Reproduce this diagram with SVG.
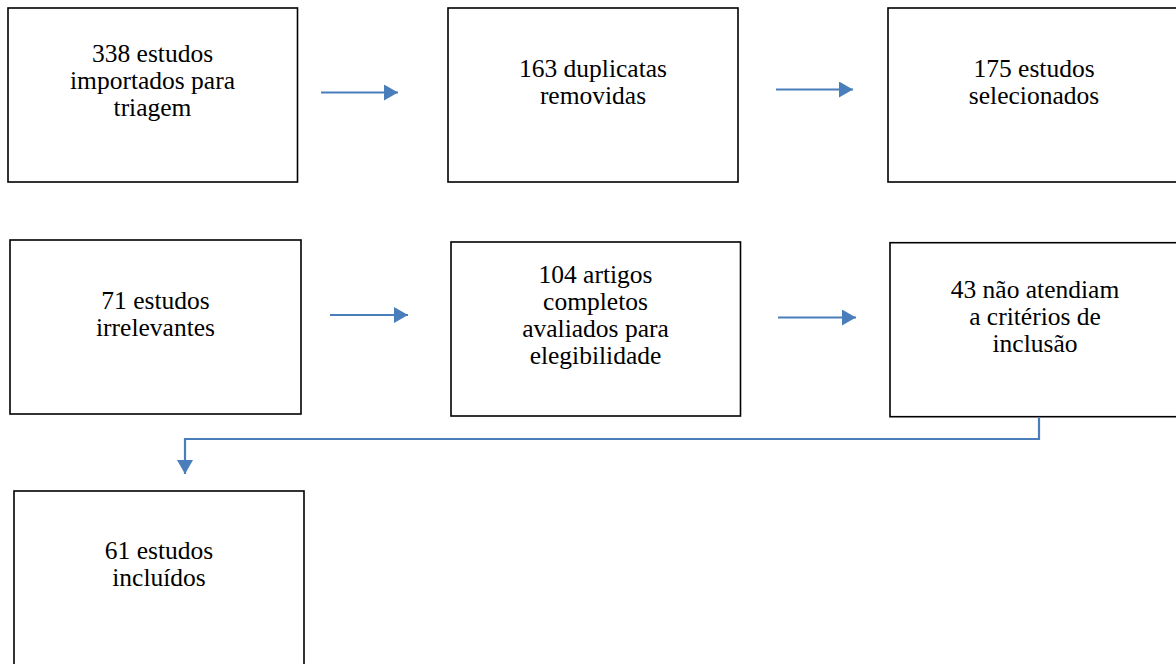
<svg xmlns="http://www.w3.org/2000/svg" width="1176" height="664" viewBox="0 0 1176 664">
<style>
.box{fill:#fff;stroke:#000;stroke-width:1.6}
.t{font-family:"Liberation Serif","DejaVu Serif",serif;font-size:25.5px;fill:#000;text-anchor:middle}
.c{fill:none;stroke:#4A7EBB;stroke-width:2.2}
</style>
<defs>
<marker id="ah" markerUnits="userSpaceOnUse" markerWidth="16" markerHeight="16" viewBox="0 0 14 16" refX="14" refY="8" orient="auto">
<path d="M0,0 L14,8 L0,16 Z" fill="#4A7EBB"/>
</marker>
</defs>
<rect width="1176" height="664" fill="#fff"/>
<g id="n1"><rect class="box" x="8" y="8" width="289.5" height="174"/>
<text class="t" x="152.5" y="62">338 estudos</text><text class="t" x="152.5" y="89">importados para</text><text class="t" x="152.5" y="116">triagem</text></g>
<g id="n2"><rect class="box" x="448" y="8" width="290" height="174"/>
<text class="t" x="593" y="77">163 duplicatas</text><text class="t" x="593" y="104">removidas</text></g>
<g id="n3"><rect class="box" x="888" y="8" width="292" height="174"/>
<text class="t" x="1034" y="77">175 estudos</text><text class="t" x="1034" y="104">selecionados</text></g>
<g id="n4"><rect class="box" x="10" y="240" width="291" height="174"/>
<text class="t" x="155.5" y="309">71 estudos</text><text class="t" x="155.5" y="336">irrelevantes</text></g>
<g id="n5"><rect class="box" x="451" y="242" width="289.5" height="174"/>
<text class="t" x="595.5" y="283">104 artigos</text><text class="t" x="595.5" y="310">completos</text><text class="t" x="595.5" y="337">avaliados para</text><text class="t" x="595.5" y="364">elegibilidade</text></g>
<g id="n6"><rect class="box" x="890" y="242.7" width="292" height="174"/>
<text class="t" x="1035" y="298">43 não atendiam</text><text class="t" x="1035" y="325">a critérios de</text><text class="t" x="1035" y="352">inclusão</text></g>
<g id="n7"><rect class="box" x="14" y="491" width="290" height="180"/>
<text class="t" x="159" y="559">61 estudos</text><text class="t" x="159" y="586">incluídos</text></g>
<g id="connectors">
<line class="c" x1="321" y1="92.5" x2="398" y2="92.5" marker-end="url(#ah)"/>
<line class="c" x1="776" y1="89.5" x2="853" y2="89.5" marker-end="url(#ah)"/>
<line class="c" x1="330" y1="315" x2="408" y2="315" marker-end="url(#ah)"/>
<line class="c" x1="778" y1="317.5" x2="856" y2="317.5" marker-end="url(#ah)"/>
<path class="c" d="M1039,417 V439 H185 V474" marker-end="url(#ah)"/>
</g>
</svg>
